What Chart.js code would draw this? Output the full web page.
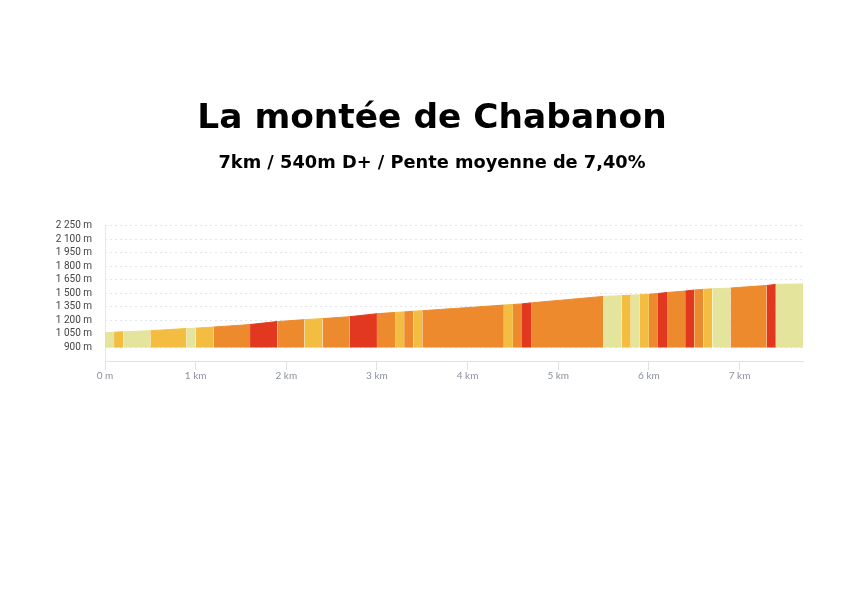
<!DOCTYPE html>
<html>
<head>
<meta charset="utf-8">
<script src="https://cdn.jsdelivr.net/npm/chart.js@4/dist/chart.umd.min.js"></script>
<style>
  body { margin: 0; background: #fff; }
</style>
</head>
<body>
<canvas id="profil" width="848" height="600"></canvas>
<script>
//distance from the start in km, one point every 100 m
const distances = [
  0, 0.1, 0.2, 0.3, 0.4, 0.5, 0.6, 0.7, 0.8, 0.9,
  1, 1.1, 1.2, 1.3, 1.4, 1.5, 1.6, 1.7, 1.8, 1.9,
  2, 2.1, 2.2, 2.3, 2.4, 2.5, 2.6, 2.7, 2.8, 2.9,
  3, 3.1, 3.2, 3.3, 3.4, 3.5, 3.6, 3.7, 3.8, 3.9,
  4, 4.1, 4.2, 4.3, 4.4, 4.5, 4.6, 4.7, 4.8, 4.9,
  5, 5.1, 5.2, 5.3, 5.4, 5.5, 5.6, 5.7, 5.8, 5.9,
  6, 6.1, 6.2, 6.3, 6.4, 6.5, 6.6, 6.7, 6.8, 6.9,
  7, 7.1, 7.2, 7.3, 7.4, 7.5, 7.6, 7.7
];

//altitude in metres at each distance
const altitudes = [
  1064, 1068, 1074, 1078, 1082, 1086, 1092, 1098, 1104, 1110,
  1114, 1120, 1126, 1133, 1140, 1147, 1154, 1165, 1176, 1187,
  1194, 1201, 1208, 1214, 1220, 1227, 1234, 1241, 1252, 1263,
  1274, 1281, 1288, 1294, 1301, 1307, 1314, 1321, 1328, 1335,
  1342, 1349, 1356, 1363, 1370, 1376, 1383, 1394, 1403, 1412,
  1421, 1430, 1439, 1448, 1457, 1466, 1470, 1474, 1480, 1484,
  1490, 1498, 1509, 1517, 1525, 1536, 1544, 1550, 1554, 1558,
  1566, 1573, 1580, 1587, 1599, 1601, 1602, 1604
];

//slope class of each 100 m section (0 = gentle ... 3 = steep)
const niveaux = [
  0, 1, 0, 0, 0, 1, 1, 1, 1, 0,
  1, 1, 2, 2, 2, 2, 3, 3, 3, 2,
  2, 2, 1, 1, 2, 2, 2, 3, 3, 3,
  2, 2, 1, 2, 1, 2, 2, 2, 2, 2,
  2, 2, 2, 2, 1, 2, 3, 2, 2, 2,
  2, 2, 2, 2, 2, 0, 0, 1, 0, 1,
  2, 3, 2, 2, 3, 2, 1, 0, 0, 2,
  2, 2, 2, 3, 0, 0, 0
];

const altTicks = [900, 1050, 1200, 1350, 1500, 1650, 1800, 1950, 2100, 2250];
const kmTicks = [0, 1, 2, 3, 4, 5, 6, 7];

const titre = "La montée de Chabanon";
const sousTitre = "7km / 540m D+ / Pente moyenne de 7,40%";

//colours for the slope classes
const couleurs = ["#e4e49c", "#f3bd42", "#ee8a2e", "#e2381f"];

/**
 * formats an altitude like "2 250 m"
 */
const formatAltitude = (v) => {
  if (v >= 1000) {
    return `${Math.floor(v / 1000)} ${String(v % 1000).padStart(3, "0")} m`;
  }
  return `${v} m`;
};

const points = distances.map((d, i) => ({ x: d, y: altitudes[i] }));
const couleurSegment = (ctx) => couleurs[niveaux[ctx.p0DataIndex]];

//lets the altitude labels spill into the left padding without being clipped
const labelsDebordants = {
  id: "labelsDebordants",
  afterLayout: (chart) => {
    chart.scales.y.left = 0;
  },
};

new Chart(document.getElementById("profil"), {
  type: "line",
  data: {
    datasets: [
      {
        data: points,
        fill: { value: 900 },
        borderWidth: 1,
        pointRadius: 0,
        tension: 0,
        segment: {
          backgroundColor: couleurSegment,
          borderColor: couleurSegment,
        },
      },
    ],
  },
  plugins: [labelsDebordants],
  options: {
    responsive: false,
    animation: false,
    layout: {
      padding: { left: 61, right: 45, top: 0, bottom: 218 },
    },
    plugins: {
      legend: { display: false },
      tooltip: { enabled: false },
      title: {
        display: true,
        text: titre,
        color: "#000",
        font: { family: "DejaVu Sans", size: 34.4, weight: "bold" },
        padding: { top: 98, bottom: 0 },
      },
      subtitle: {
        display: true,
        text: sousTitre,
        color: "#000",
        font: { family: "DejaVu Sans", size: 17.8, weight: "bold" },
        padding: { top: 13, bottom: 52 },
      },
    },
    scales: {
      x: {
        type: "linear",
        min: 0,
        max: distances[distances.length - 1],
        afterBuildTicks: (scale) => {
          scale.ticks = kmTicks.map((v) => ({ value: v }));
        },
        ticks: {
          color: "#8a8f99",
          font: { family: "Lato", size: 10 },
          padding: 0,
          maxRotation: 0,
          callback: (v) => (v === 0 ? "0 m" : `${v} km`),
        },
        grid: {
          color: (ctx) => (ctx.tick && ctx.tick.value === 0 ? "#e3e7ee" : "transparent"),
          tickColor: "#dde2ea",
          tickLength: 9,
        },
        border: { display: true, color: "#dde2ea" },
      },
      y: {
        min: 750,
        max: 2250,
        afterBuildTicks: (scale) => {
          scale.ticks = altTicks.map((v) => ({ value: v }));
        },
        afterFit: (scale) => {
          scale.width = 44;
        },
        ticks: {
          color: "#444",
          font: { family: "Roboto", size: 10 },
          padding: 13,
          callback: (v) => formatAltitude(v),
        },
        grid: {
          color: "#e2e5ea",
          drawTicks: false,
        },
        border: { display: false, dash: [2, 3] },
      },
    },
  },
});
</script>
</body>
</html>
